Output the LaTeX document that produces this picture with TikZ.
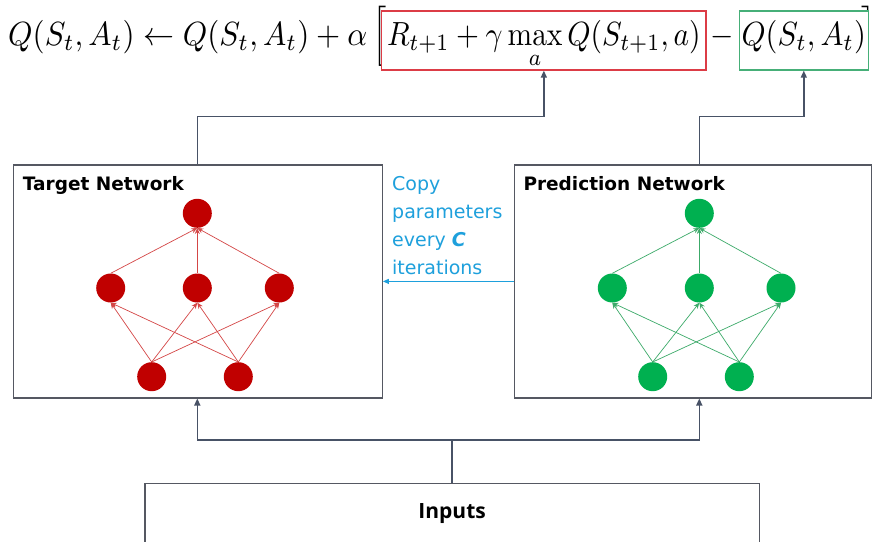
\documentclass[tikz,border=0pt]{standalone}
\usepackage{amsmath}
\usepackage{graphicx}
\usepackage[no-math]{fontspec}
\setmainfont{DejaVu Sans}
\newfontfamily\inputsfont{Open Sans}
\usetikzlibrary{arrows.meta,calc}
\newcommand{\bigmath}[2]{\scalebox{#1}[3.35]{$#2$}}
\definecolor{lineg}{RGB}{72,82,102}
\definecolor{boxg}{RGB}{85,88,98}
\definecolor{redbox}{RGB}{220,60,70}
\definecolor{greenbox}{RGB}{70,175,120}
\definecolor{nred}{RGB}{192,0,0}
\definecolor{ngreen}{RGB}{0,176,80}
\definecolor{ered}{RGB}{212,70,70}
\definecolor{egreen}{RGB}{60,170,105}
\definecolor{copyc}{RGB}{30,160,220}
\tikzset{
  fml/.style={font=\normalsize, inner sep=0pt},
  eqbox/.style={fml, anchor=base, fill=white, line width=1.3pt, text height=34pt, text depth=25pt, inner ysep=0pt},
  netbox/.style={draw=boxg, line width=1.2pt, rectangle, inner sep=0pt},
  ttl/.style={font=\bfseries\fontsize{18.5}{22}\selectfont, anchor=base west, inner sep=0pt},
  cpy/.style={font=\fontsize{19}{23}\selectfont, text=copyc, anchor=base west, inner sep=0pt},
  rneur/.style={circle, fill=nred, minimum size=29pt, inner sep=0pt},
  gneur/.style={circle, fill=ngreen, minimum size=29pt, inner sep=0pt},
  redge/.style={draw=ered, line width=0.7pt, -{Stealth[length=6pt,width=5pt]}},
  gedge/.style={draw=egreen, line width=0.7pt, -{Stealth[length=6pt,width=5pt]}},
  arr/.style={draw=lineg, line width=1.4pt, -{Triangle[length=7pt,width=6pt]}},
  plain/.style={draw=lineg, line width=1.4pt},
  copyarr/.style={draw=copyc, line width=1pt, -{Triangle[length=6pt,width=5pt]}}
}
\begin{document}
\begin{tikzpicture}[x=1pt,y=-1pt]
\useasboundingbox (0,0) rectangle (873,541);
\fill[white] (0,0) rectangle (873,541);

% formula
\node[fml, anchor=base west] (lhs) at (8,45) {\bigmath{3.1}{Q(S_t,A_t)\leftarrow Q(S_t,A_t)+\alpha}};
\node[fml, anchor=base west] (lbr) at (372,45) {\bigmath{3.0}{\Big[}};
\node[fml, anchor=base east] (rbr) at (876,45) {\bigmath{3.0}{\Big]}};
\node[eqbox, draw=redbox, minimum width=324.3pt] (rb) at (543.85,45) {\bigmath{2.95}{\displaystyle R_{t+1}+\gamma\max_a Q(S_{t+1},a)}};
\node[fml, anchor=base] (minus) at (722.5,45) {\bigmath{3.0}{-}};
\node[eqbox, draw=greenbox, minimum width=129pt] (gb) at (803.8,45) {\bigmath{3.05}{Q(S_t,A_t)}};

% boxes
\node[netbox, minimum width=369pt, minimum height=233pt, anchor=north west] (target) at (12.7,164.3) {};
\node[netbox, minimum width=357pt, minimum height=233pt, anchor=north west] (pred) at (514,164.3) {};
\node[netbox, minimum width=614.3pt, minimum height=59.7pt, font=\inputsfont\bfseries\fontsize{21}{25}\selectfont] (inputs) at (452.15,513.15) {Inputs};

\node[ttl] (ttlT) at (22.7,190) {Target Network};
\node[ttl] (ttlP) at (523.3,190) {Prediction Network};

\node[cpy] (c1) at (392,190) {Copy};
\node[cpy] (c2) at (392,218) {parameters};
\node[cpy] (c3) at (392,246.5) {every \textbf{\textit{C}}};
\node[cpy] (c4) at (392,274.5) {iterations};

% target network
\node[rneur] (t0) at (197.3,213.3) {};
\node[rneur] (t1) at (110.7,288) {};
\node[rneur] (t2) at (197.3,288) {};
\node[rneur] (t3) at (279.3,288) {};
\node[rneur] (t4) at (151.7,376.7) {};
\node[rneur] (t5) at (238.3,376.7) {};
\foreach \m in {t1,t2,t3} \draw[redge] (\m.north) -- (t0.south);
\foreach \b in {t4,t5} \foreach \m in {t1,t2,t3} \draw[redge] (\b.north) -- (\m.south);

% prediction network
\node[gneur] (p0) at (699.3,213.3) {};
\node[gneur] (p1) at (612.3,288) {};
\node[gneur] (p2) at (699.3,288) {};
\node[gneur] (p3) at (781,288) {};
\node[gneur] (p4) at (652.7,376.7) {};
\node[gneur] (p5) at (739.3,376.7) {};
\foreach \m in {p1,p2,p3} \draw[gedge] (\m.north) -- (p0.south);
\foreach \b in {p4,p5} \foreach \m in {p1,p2,p3} \draw[gedge] (\b.north) -- (\m.south);

% connectors
\coordinate (busTop) at (0,116.7);
\coordinate (busBot) at (0,440);
\draw[arr] (t0 |- target.north) -- (t0 |- busTop) -| (rb.south);
\draw[arr] (p0 |- pred.north) -- (p0 |- busTop) -| (gb.south);
\draw[plain] (inputs.north) -- (inputs.north |- busBot);
\draw[arr] (inputs.north |- busBot) -| (t0 |- target.south);
\draw[arr] (inputs.north |- busBot) -| (p0 |- pred.south);
\draw[copyarr] (pred.west) -- (target.east);
\end{tikzpicture}
\end{document}
